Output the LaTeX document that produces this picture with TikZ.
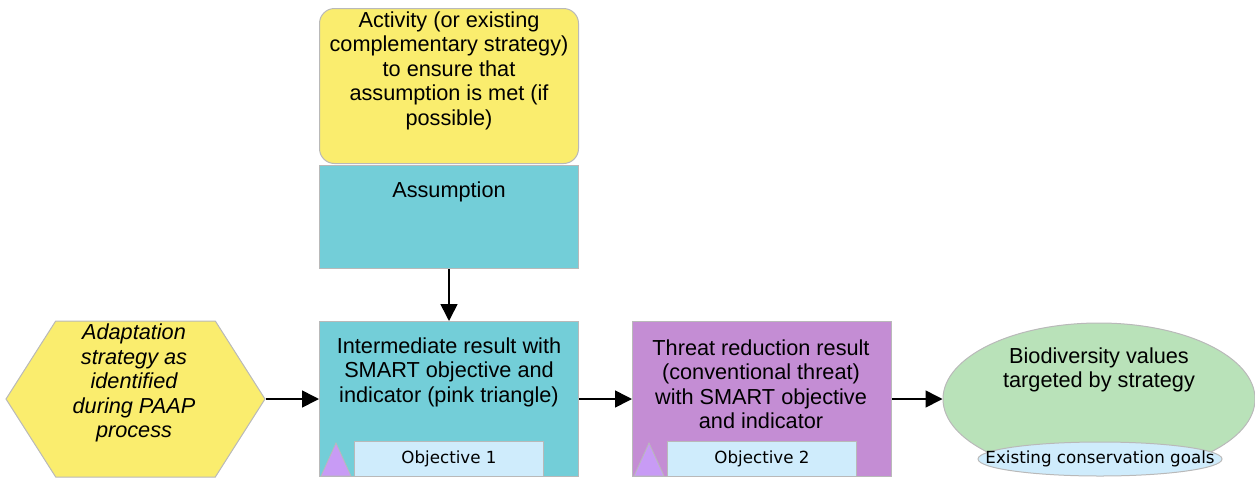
\documentclass[tikz,border=0pt]{standalone}
\usepackage{fontspec}
\setmainfont{Liberation Sans}
\newfontfamily\objfont{DejaVu Sans}
\usetikzlibrary{arrows.meta,shapes.symbols,shapes.geometric}
\definecolor{cyel}{RGB}{250,237,110}
\definecolor{cteal}{RGB}{115,206,216}
\definecolor{cpurp}{RGB}{196,141,212}
\definecolor{cgreen}{RGB}{185,226,185}
\definecolor{clblue}{RGB}{207,236,252}
\definecolor{ctri}{RGB}{200,155,245}
\definecolor{cborder}{RGB}{185,185,185}
\tikzset{
  box/.style={draw=cborder, line width=1pt, inner sep=0pt, anchor=north west},
  txt/.style={anchor=north, align=center, inner sep=0pt, font=\fontsize{21.7}{24.5}\selectfont},
  objbox/.style={box, fill=clblue, font=\objfont\fontsize{16.7}{19}\selectfont},
  tri/.style={draw=cborder, line width=0.8pt, fill=ctri},
  conn/.style={line width=1.6pt, -{Triangle[length=17pt,width=17pt]}}
}
\begin{document}
\begin{tikzpicture}[x=1pt,y=-1pt]
\useasboundingbox (0,0) rectangle (1255,477);
% Activity
\node[box, fill=cyel, rounded corners=15pt, minimum width=259pt, minimum height=155pt] (act) at (319,8) {};
\node[txt] (acttxt) at (449,11.5) {Activity (or existing\\complementary strategy)\\to ensure that\\assumption is met (if\\possible)};
% Assumption
\node[box, fill=cteal, minimum width=259pt, minimum height=103pt] (ass) at (319,165) {};
\node[txt] (asstxt) at (449,181.5) {Assumption};
% Hexagon
\node[draw=cborder, line width=1pt, fill=cyel, signal, signal to=east and west, signal pointer angle=115, minimum width=259pt, minimum height=156pt, inner sep=0pt] (hex) at (135.5,399) {};
\node[txt, font=\fontsize{21.7}{24.5}\selectfont\itshape] (hextxt) at (134,324) {Adaptation\\strategy as\\identified\\during PAAP\\process};
% Intermediate
\node[box, fill=cteal, minimum width=259pt, minimum height=155pt] (inter) at (319,321) {};
\node[txt] (intertxt) at (449,337.5) {Intermediate result with\\SMART objective and\\indicator (pink triangle)};
\draw[tri] (321,476) -- (336,443) -- (351,476) -- cycle;
\node[objbox, minimum width=189pt, minimum height=35pt] (obj1) at (354,441) {Objective 1};
% Threat
\node[box, fill=cpurp, minimum width=259pt, minimum height=155pt] (threat) at (632,321) {};
\node[txt] (threattxt) at (761,339.5) {Threat reduction result\\(conventional threat)\\with SMART objective\\and indicator};
\draw[tri] (634,476) -- (649,443) -- (664,476) -- cycle;
\node[objbox, minimum width=189pt, minimum height=35pt] (obj2) at (667,441) {Objective 2};
% Biodiversity
\node[draw=cborder, line width=1pt, fill=cgreen, ellipse, minimum width=312pt, minimum height=152pt, inner sep=0pt] (bio) at (1099,399) {};
\node[txt] (biotxt) at (1099,347.5) {Biodiversity values\\targeted by strategy};
\node[draw=cborder, line width=1pt, fill=clblue, ellipse, minimum width=244pt, minimum height=34pt, inner sep=0pt] (goals) at (1100,459) {};
\node[inner sep=0pt, font=\objfont\fontsize{16.7}{19}\selectfont] (goalstxt) at (goals.center) {Existing conservation goals};
% connectors
\draw[conn] (ass.south) -- (inter.north);
\draw[conn] (hex.east) -- (inter.west |- hex.east);
\draw[conn] (inter.east |- hex.east) -- (threat.west |- hex.east);
\draw[conn] (threat.east |- hex.east) -- (bio.west);
\end{tikzpicture}
\end{document}
